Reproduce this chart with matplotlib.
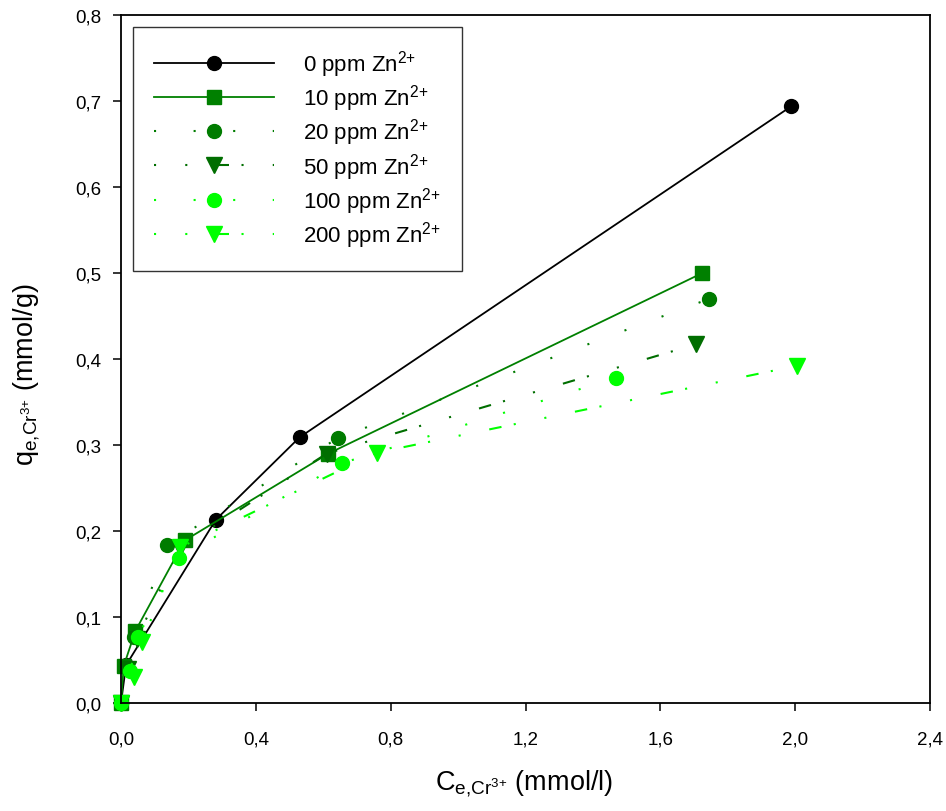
import matplotlib
matplotlib.use("Agg")
import matplotlib.pyplot as plt

plt.rcParams['font.family'] = ['Liberation Sans', 'DejaVu Sans']
plt.rcParams['mathtext.fontset'] = 'custom'
plt.rcParams['mathtext.rm'] = 'Liberation Sans'
plt.rcParams['mathtext.it'] = 'Liberation Sans'

# Ce (mmol/l) and qe (mmol/g) per Zn2+ level
x_0 = [0.0, 0.015, 0.281, 0.530, 1.989]
y_0 = [0.0, 0.044, 0.213, 0.309, 0.694]

x_10 = [0.0, 0.008, 0.043, 0.189, 0.615, 1.725]
y_10 = [0.0, 0.043, 0.084, 0.189, 0.290, 0.500]

x_20 = [0.0, 0.012, 0.040, 0.137, 0.643, 1.745]
y_20 = [0.0, 0.042, 0.077, 0.184, 0.308, 0.470]

x_50 = [0.0, 0.020, 0.047, 0.175, 0.610, 1.705]
y_50 = [0.0, 0.040, 0.075, 0.180, 0.290, 0.417]

x_100 = [0.0, 0.027, 0.050, 0.172, 0.657, 1.468]
y_100 = [0.0, 0.037, 0.077, 0.169, 0.279, 0.378]

x_200 = [0.0, 0.038, 0.062, 0.176, 0.758, 2.004]
y_200 = [0.0, 0.030, 0.071, 0.181, 0.291, 0.392]

labels = ['0 ppm Zn$^{2{+}}$', '10 ppm Zn$^{2{+}}$', '20 ppm Zn$^{2{+}}$',
          '50 ppm Zn$^{2{+}}$', '100 ppm Zn$^{2{+}}$', '200 ppm Zn$^{2{+}}$']

fig = plt.figure(figsize=(9.46, 8.12), dpi=100)
ax = fig.add_axes([121 / 946, 108 / 812, 809 / 946, 688 / 812])

dots = (0, (1, 18))
dashdot = (0, (1, 14, 1, 14, 6, 6))

ax.plot(x_0, y_0, color='black', lw=1.3, marker='o', ms=10, label=labels[0], clip_on=False)
ax.plot(x_10, y_10, color='#008000', lw=1.3, marker='s', ms=10, label=labels[1], clip_on=False)
ax.plot(x_20, y_20, color='#007c00', lw=1.5, ls=dots, marker='o', ms=10, label=labels[2], clip_on=False)
ax.plot(x_50, y_50, color='#006e00', lw=1.5, ls=dashdot, marker='v', ms=12, label=labels[3], clip_on=False)
ax.plot(x_100, y_100, color='#00ff00', lw=1.5, ls=dots, marker='o', ms=10, label=labels[4], clip_on=False)
ax.plot(x_200, y_200, color='#00ff00', lw=1.5, ls=dashdot, marker='v', ms=12, label=labels[5], clip_on=False)

ax.set_xlim(0, 2.4)
ax.set_ylim(0, 0.8)
xt = [0.0, 0.4, 0.8, 1.2, 1.6, 2.0, 2.4]
yt = [0.0, 0.1, 0.2, 0.3, 0.4, 0.5, 0.6, 0.7, 0.8]
ax.set_xticks(xt)
ax.set_xticklabels([f'{v:.1f}'.replace('.', ',') for v in xt])
ax.set_yticks(yt)
ax.set_yticklabels([f'{v:.1f}'.replace('.', ',') for v in yt])
ax.tick_params(direction='out', length=6, width=1.1, labelsize=13.5)
ax.tick_params(axis='x', pad=14)
ax.tick_params(axis='y', pad=8)

for s in ax.spines.values():
    s.set_linewidth(1.3)

ax.set_xlabel(r'C$_{\mathrm{e{,}Cr}^{3{+}}}$ (mmol/l)', fontsize=19.5)
ax.set_ylabel(r'q$_{\mathrm{e{,}Cr}^{3{+}}}$ (mmol/g)', fontsize=19.5)
ax.xaxis.set_label_coords(0.498, -0.094)
ax.yaxis.set_label_coords(-0.098, 0.478)

leg = ax.legend(loc='upper left', bbox_to_anchor=(0.0148, 0.9826), borderaxespad=0,
                fontsize=16, handlelength=5.4, handletextpad=1.3, labelspacing=0.15,
                borderpad=0.95, fancybox=False, frameon=True, numpoints=1)
leg.get_frame().set_edgecolor('black')
leg.get_frame().set_linewidth(1.0)

fig.savefig('out.png', dpi=100)
